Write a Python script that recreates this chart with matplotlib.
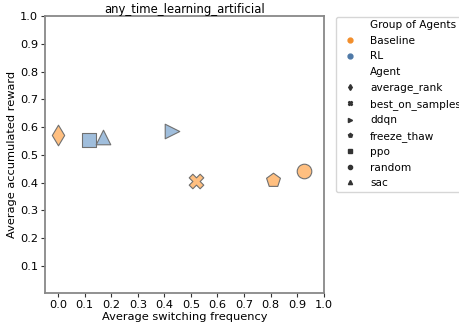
import matplotlib
matplotlib.use("Agg")
import matplotlib.pyplot as plt
from matplotlib.lines import Line2D

agents = ['average_rank', 'best_on_samples', 'ddqn', 'freeze_thaw', 'ppo', 'random', 'sac']
groups = ['Baseline', 'Baseline', 'RL', 'Baseline', 'RL', 'Baseline', 'RL']
switch_freq = [0.0, 0.52, 0.43, 0.81, 0.115, 0.925, 0.17]
acc_reward = [0.57, 0.407, 0.585, 0.41, 0.553, 0.44, 0.563]
markers = ['d', 'X', '>', 'p', 's', 'o', '^']
group_colors = {'Baseline': '#f28e2b', 'RL': '#4e79a7'}
face_colors = {'Baseline': '#ffbf80', 'RL': '#a0bedc'}

plt.rcParams['font.size'] = 8.2

fig = plt.figure(figsize=(4.59, 3.29), dpi=100)
ax = fig.add_axes([0.098, 0.108, 0.607, 0.843])

for x, y, g, m in zip(switch_freq, acc_reward, groups, markers):
    ax.scatter(x, y, s=110, marker=m, facecolors=face_colors[g],
               edgecolors='#707070', linewidths=0.8, zorder=3)

ax.set_xlim(-0.05, 1.0)
ax.set_ylim(0.0, 1.0)
ax.set_xticks([i / 10 for i in range(11)])
ax.set_yticks([i / 10 for i in range(1, 11)])
ax.set_xlabel('Average switching frequency', labelpad=1)
ax.set_ylabel('Average accumulated reward', labelpad=2)
ax.set_title('any_time_learning_artificial', fontsize=8.4, pad=2)
for sp in ax.spines.values():
    sp.set_color('#888888')
    sp.set_linewidth(1.3)
ax.tick_params(length=3, color='#333333', pad=2)

handles = [Line2D([], [], linestyle='none', marker='')]
labels = ['Group of Agents']
for g in ['Baseline', 'RL']:
    handles.append(Line2D([], [], linestyle='none', marker='o', color=group_colors[g], markersize=3.5))
    labels.append(g)
handles.append(Line2D([], [], linestyle='none', marker=''))
labels.append('Agent')
for a, m in zip(agents, markers):
    handles.append(Line2D([], [], linestyle='none', marker=m, color='#333333', markersize=3))
    labels.append(a)
fig.legend(handles, labels, loc='upper left', bbox_to_anchor=(0.72, 0.965),
           frameon=True, edgecolor='#cccccc', fontsize=7.6, handletextpad=0.9,
           labelspacing=0.52, borderpad=0.35)

fig.savefig('out.png', dpi=100)
